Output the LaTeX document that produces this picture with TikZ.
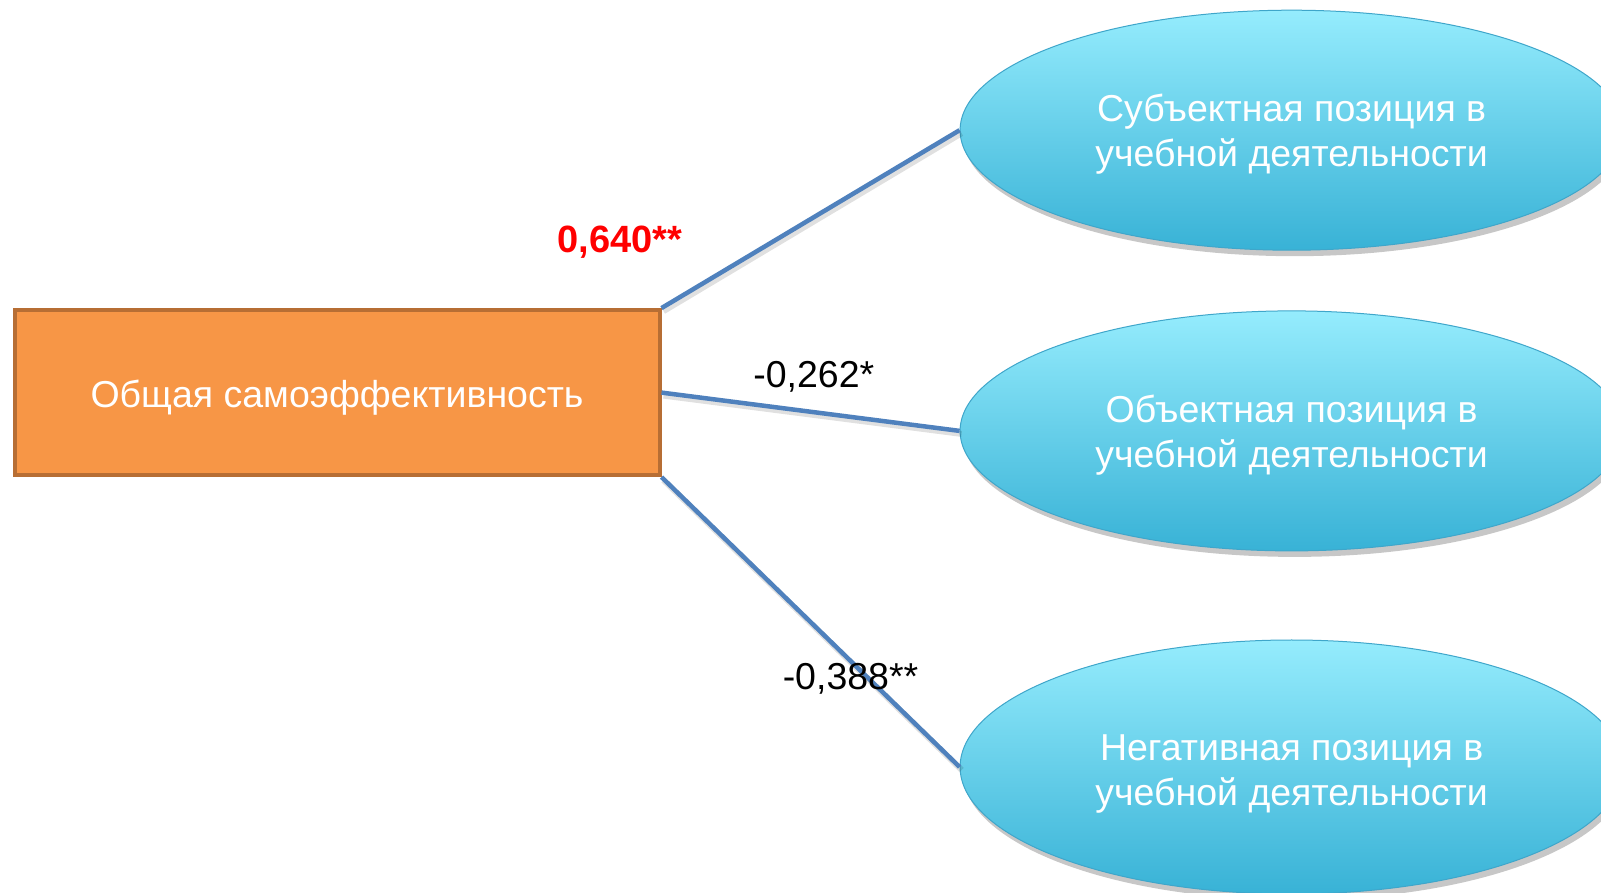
\documentclass[tikz,border=0pt]{standalone}
\usepackage{fontspec}
\setmainfont{Liberation Sans}
\usetikzlibrary{shapes.geometric,shadows}
\definecolor{boxfill}{HTML}{F79646}
\definecolor{boxline}{HTML}{B76E34}
\definecolor{linkblue}{HTML}{4F81BD}
\definecolor{elltop}{HTML}{95ECFD}
\definecolor{ellbot}{HTML}{38B2D6}
\definecolor{ellline}{HTML}{3FA6CA}
\definecolor{valred}{HTML}{FF0000}
\tikzset{
  bigfont/.style={font=\fontsize{37.5}{45}\selectfont},
  mainbox/.style={rectangle, draw=boxline, line width=4pt, fill=boxfill,
    minimum width=645pt, minimum height=165pt, inner sep=0pt},
  posell/.style={ellipse, draw=ellline, line width=1pt, top color=elltop, bottom color=ellbot,
    minimum width=663pt, minimum height=240pt, inner sep=0pt,
    drop shadow={shadow xshift=3pt, shadow yshift=-6pt, opacity=0.22, fill=black}},
  wtext/.style={text=white, align=center, bigfont, inner sep=0pt},
  link/.style={draw=linkblue, line width=4.5pt,
    preaction={draw=black, opacity=0.12, line width=6pt, transform canvas={xshift=2pt,yshift=-3pt}}},
  coef/.style={text=black, bigfont, inner sep=0pt}
}
\begin{document}
\begin{tikzpicture}[x=1pt,y=1pt]
\useasboundingbox (0,0) rectangle (1601,892);
\clip (0,0) rectangle (1601,892);
\fill[white] (0,0) rectangle (1601,892);
\node[mainbox] (gen) at (337,499.4) {};
\node[wtext] (gent) at (337,494.5) {Общая самоэффективность};
\node[posell] (subj) at (1291.6,761.8) {};
\node[posell] (obj) at (1291.6,461.1) {};
\node[posell, minimum height=254pt] (neg) at (1291.6,125) {};
\node[wtext] (subjt) at (1291.6,757.8) {Субъектная позиция в\\учебной деятельности};
\node[wtext] (objt) at (1291.6,457.1) {Объектная позиция в\\учебной деятельности};
\node[wtext] (negt) at (1291.6,118) {Негативная позиция в\\учебной деятельности};
\draw[link] (gen.north east) -- (subj.west);
\draw[link] (gen.east) -- (obj.west);
\draw[link] (gen.south east) -- (neg.west);
\node[coef, text=valred, font=\fontsize{38}{45}\selectfont\bfseries] (c1) at (619.8,650) {0,640**};
\node[coef] (c2) at (813.8,515.3) {-0,262*};
\node[coef] (c3) at (850.5,213.1) {-0,388**};
\end{tikzpicture}
\end{document}
